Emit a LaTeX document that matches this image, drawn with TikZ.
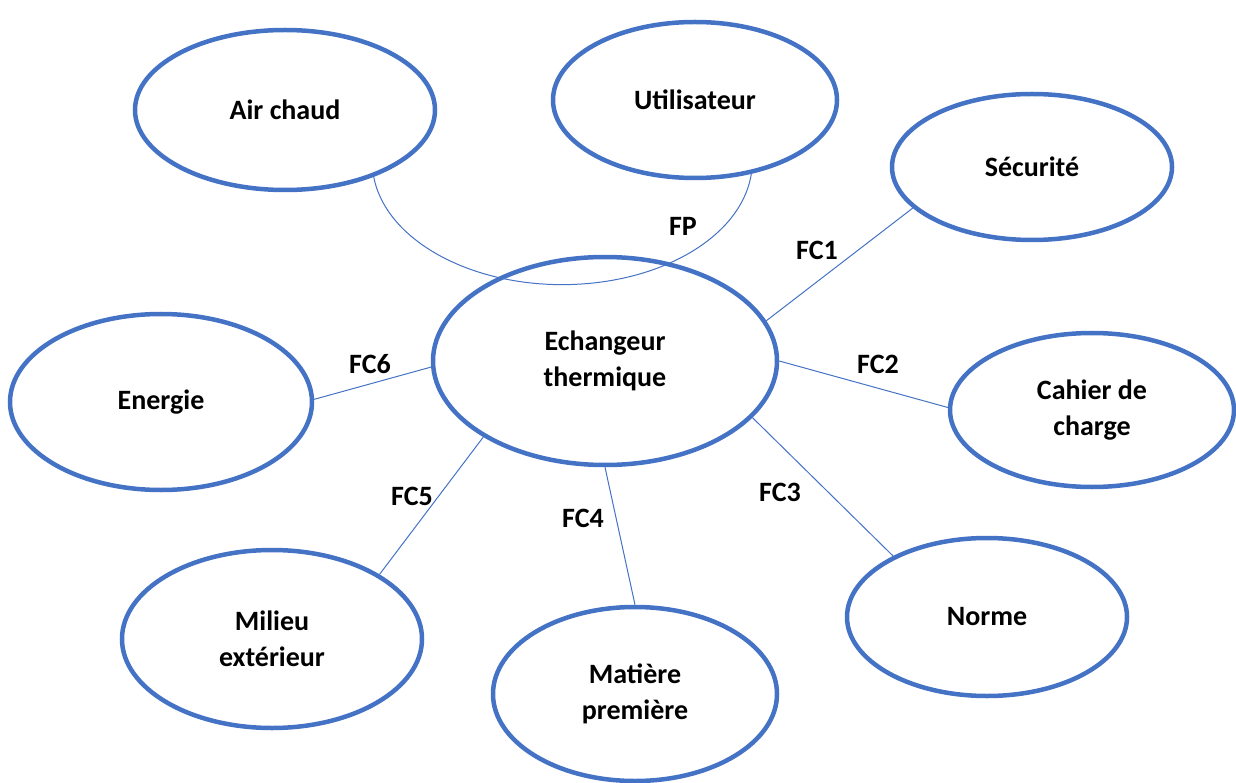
\documentclass[tikz,border=0pt]{standalone}
\usepackage{fontspec}
\setmainfont{Carlito}
\usetikzlibrary{shapes.geometric}
\definecolor{obl}{HTML}{4472C4}
\begin{document}
\begin{tikzpicture}[x=1pt,y=-1pt,
  blob/.style={ellipse,draw=obl,line width=4.5pt,inner sep=0pt,align=center,
    font=\fontsize{28}{36}\selectfont\bfseries},
  link/.style={draw=obl,line width=1pt},
  lbl/.style={font=\fontsize{28}{36}\selectfont\bfseries,inner sep=0pt}]
\useasboundingbox (0,0) rectangle (1236,783);
\node[blob,minimum width=300pt,minimum height=160pt] (air) at (285,110) {Air chaud};
\node[blob,minimum width=284pt,minimum height=156pt] (util) at (695,100) {Utilisateur};
\node[blob,minimum width=280pt,minimum height=146pt] (sec) at (1032,167) {Sécurité};
\node[blob,minimum width=344pt,minimum height=208pt] (ech) at (605,361) {Echangeur\\thermique};
\node[blob,minimum width=302pt,minimum height=176pt] (ene) at (161,402) {Energie};
\node[blob,minimum width=284pt,minimum height=154pt] (cah) at (1092,410) {Cahier de\\charge};
\node[blob,minimum width=280pt,minimum height=158pt] (nor) at (987,617) {Norme};
\node[blob,minimum width=300pt,minimum height=178pt] (mil) at (272,639) {Milieu\\extérieur};
\node[blob,minimum width=284pt,minimum height=174pt] (mat) at (635,694) {Matière\\première};

\draw[link] (air.-37) arc[start angle=172.9, end angle=5, x radius=190, y radius=123];
\draw[link] (ech.14) -- (sec.199);
\draw[link] (ech.-0.3) -- (cah.179);
\draw[link] (ech.-21) -- (nor.147);
\draw[link] (ech.south) -- (mat.north);
\draw[link] (ech.212) -- (mil.31);
\draw[link] (ech.182) -- (ene.1);

\node[lbl] (lfp) at (683,226) {FP};
\node[lbl] (lfc1) at (817,250) {FC1};
\node[lbl] (lfc2) at (878,364) {FC2};
\node[lbl] (lfc3) at (780,492) {FC3};
\node[lbl] (lfc4) at (583,518) {FC4};
\node[lbl] (lfc5) at (412,496) {FC5};
\node[lbl] (lfc6) at (370,364) {FC6};
\end{tikzpicture}
\end{document}
